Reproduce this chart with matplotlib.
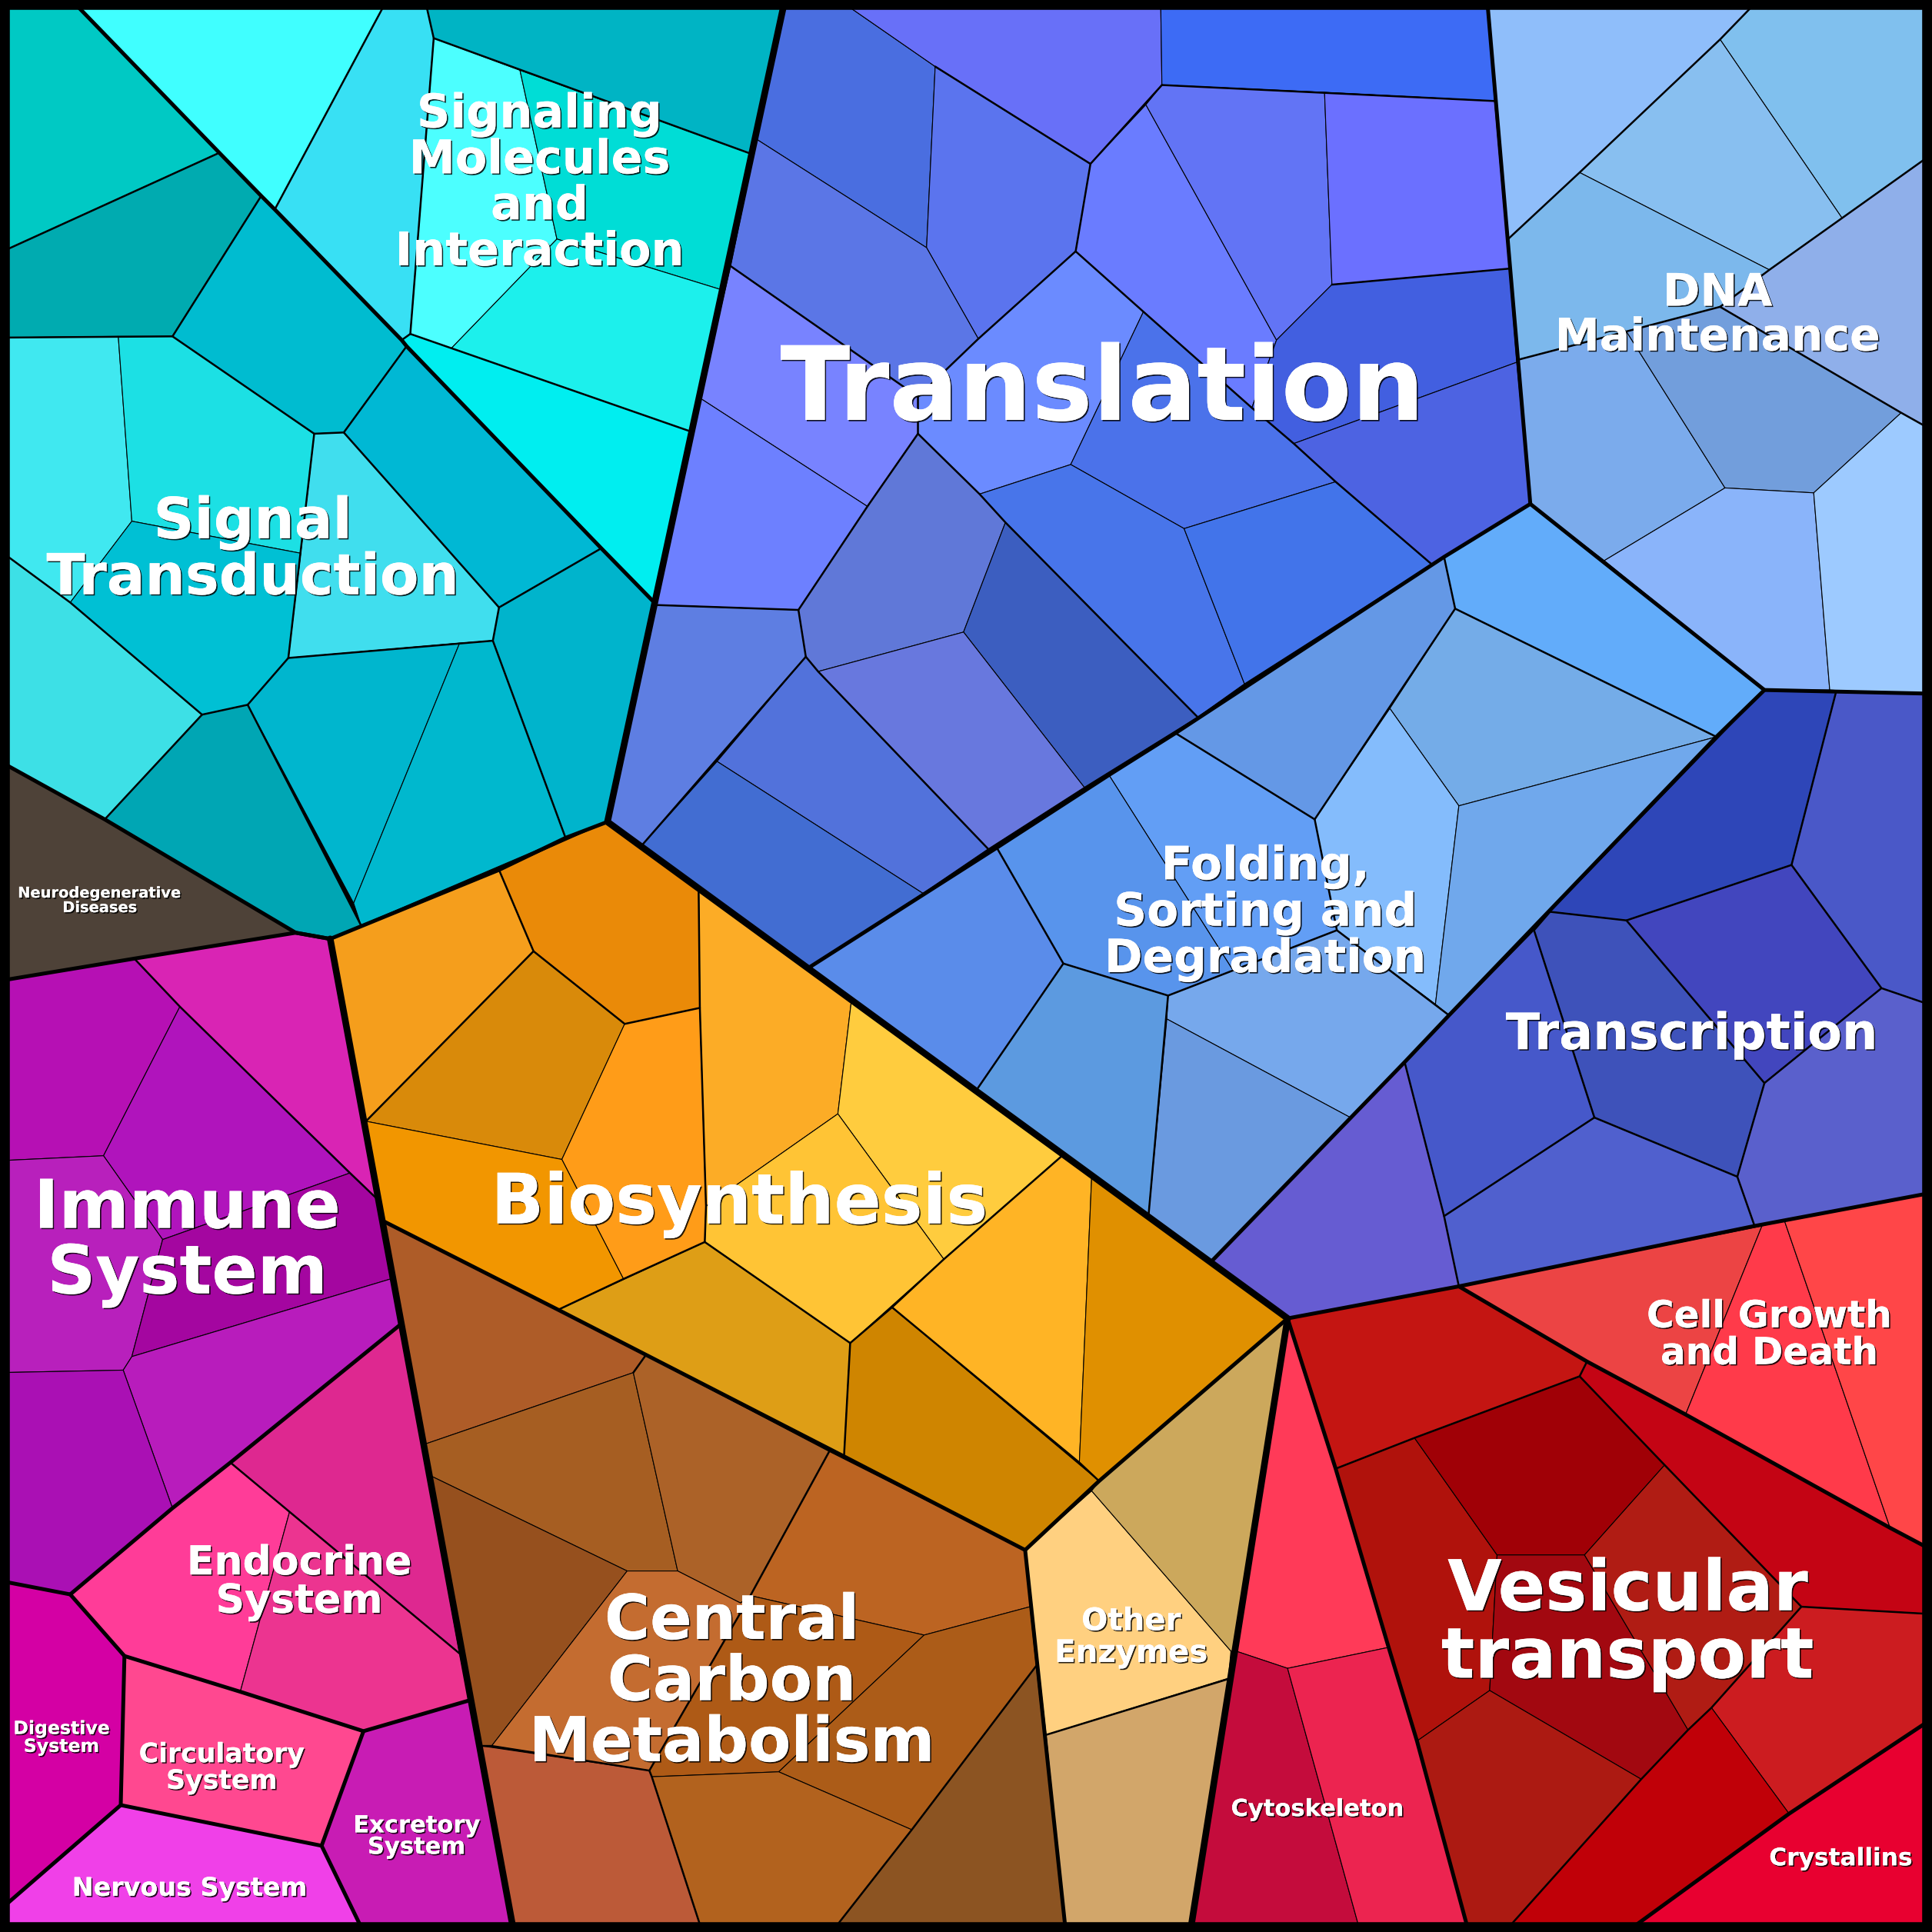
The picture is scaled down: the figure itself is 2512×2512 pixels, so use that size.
import matplotlib
matplotlib.use("Agg")
import matplotlib.pyplot as plt
import matplotlib.patheffects as pe
from matplotlib.patches import Polygon

# ---- data: Voronoi cells (vertices) and their colours ----
SIGNALING_CELLS = [
 [(58,0),(314,0),(223,170)],
 [(314,0),(345,0),(352,31),(333,271),(326,276),(223,170)],
 [(352,31),(422,57),(452,194),(366,283),(333,271)],
 [(422,57),(610,125),(585,235),(452,194)],
 [(345,0),(637,0),(610,125),(352,31)],
 [(452,194),(585,235),(560,350),(366,283)],
 [(326,276),(333,271),(560,350),(532,490)],
]
SIGNALING_COLORS = ['#40FFFF','#38E0F4','#4CFFFF','#00DDD6','#00B4C4','#1CF0EC','#00EEF0']

TRANSDUCTION_CELLS = [
 [(0,0),(58,0),(178,124),(0,205)],
 [(0,205),(178,124),(212,159),(140,273),(0,274)],
 [(212,159),(223,170),(326,276),(330,281),(279,351),(255,352),(140,273)],
 [(330,281),(488,445),(405,493),(279,351)],
 [(488,445),(532,490),(493,667),(459,680),(400,520),(405,493)],
 [(279,351),(405,493),(400,520),(373,522),(234,534),(244,449),(255,352)],
 [(0,274),(96,273),(107,423),(57,489),(0,447)],
 [(96,273),(140,273),(255,352),(244,449),(107,423)],
 [(107,423),(244,449),(234,534),(201,572),(164,580),(57,489)],
 [(0,447),(57,489),(164,580),(85,665),(0,618)],
 [(164,580),(201,572),(293,751),(268,762),(240,757),(85,665)],
 [(201,572),(234,534),(373,522),(287,733)],
 [(373,522),(400,520),(459,680),(293,751),(287,733)],
]
TRANSDUCTION_COLORS = ['#00C9C4','#00ABB0','#00BCD0','#00B8D4','#00B4CC','#40DEEE','#40E8F0',
                       '#1CE0E4','#00C0D4','#3DE0E6','#00A6B4','#00B6CE','#00B8CE']

TRANSLATION_CELLS = [
 [(637,0),(681,0),(759,54),(752,201),(614,113)],
 [(681,0),(942,0),(943,69),(885,133),(759,54)],
 [(942,0),(1207,0),(1213,82),(1075,75),(943,69)],
 [(759,54),(885,133),(873,204),(794,275),(752,201)],
 [(614,113),(752,201),(794,275),(745,322),(593,216)],
 [(593,216),(745,322),(745,352),(704,411),(568,323)],
 [(568,323),(704,411),(648,495),(532,491)],
 [(885,133),(930,85),(1036,276),(1016,331),(928,253),(873,204)],
 [(930,85),(943,69),(1075,75),(1081,231),(1036,276)],
 [(1075,75),(1213,82),(1225,218),(1081,231)],
 [(1081,231),(1225,218),(1231,294),(1050,360),(1016,331),(1036,276)],
 [(1050,360),(1231,294),(1242,409),(1162,458),(1084,391)],
 [(873,204),(928,253),(869,377),(795,401),(745,352),(745,322),(794,275)],
 [(928,253),(1016,331),(1050,360),(1084,391),(961,429),(869,377)],
 [(795,401),(869,377),(961,429),(1010,555),(972,582),(816,424)],
 [(961,429),(1084,391),(1162,458),(1010,555)],
 [(745,352),(795,401),(816,424),(782,513),(664,545),(654,533),(648,495),(704,411)],
 [(816,424),(972,582),(880,639),(782,513)],
 [(664,545),(782,513),(880,639),(802,689)],
 [(532,491),(648,495),(654,533),(521,686),(494,667)],
 [(654,533),(664,545),(802,689),(749,725),(582,618)],
 [(582,618),(749,725),(657,785),(521,686)],
]
TRANSLATION_COLORS = ['#4A6EE0','#6870F8','#3D6BF5','#5B74EE','#5B76E6','#7883FF','#6D80FF',
                      '#6A7CFF','#6274F5','#6B70FF','#425FE0','#4D63E2','#6B8BFF','#4B72EA',
                      '#4875EA','#4274EA','#6078D8','#3C5EC0','#6878DE','#5E7EE2','#5272DB','#426DD2']

DNA_CELLS = [
 [(1207,0),(1427,0),(1396,32),(1282,140),(1224,194)],
 [(1427,0),(1568,0),(1568,125),(1495,177),(1396,32)],
 [(1396,32),(1495,177),(1436,219),(1282,140)],
 [(1282,140),(1436,219),(1396,249),(1320,269),(1232,292),(1224,194)],
 [(1495,177),(1568,125),(1568,349),(1543,335),(1396,249),(1436,219)],
 [(1232,292),(1320,269),(1400,396),(1302,455),(1242,409)],
 [(1320,269),(1396,249),(1543,335),(1472,400),(1400,396)],
 [(1400,396),(1472,400),(1485,560),(1432,560),(1302,455)],
 [(1472,400),(1543,335),(1568,349),(1568,565),(1485,560)],
]
DNA_COLORS = ['#8FBEFA','#80C0EE','#88BFF0','#7CB8EC','#8FAFEA','#7BABEC','#729EDC','#8AB4FA','#9DCAFF']

FOLDING_CELLS = [
 [(1172,452),(1181,494),(1067,665),(954,595)],
 [(1172,452),(1242,409),(1432,560),(1393,598),(1181,494)],
 [(1181,494),(1393,598),(1184,654),(1128,575)],
 [(1128,575),(1184,654),(1165,815),(1085,755),(1067,665)],
 [(1184,654),(1393,598),(1176,824),(1165,815)],
 [(954,595),(1067,665),(1085,755),(1001,788),(900,629)],
 [(900,629),(1001,788),(948,808),(863,782),(809,688)],
 [(809,688),(863,782),(793,884),(657,785)],
 [(863,782),(948,808),(932,988),(793,884)],
 [(948,808),(1085,755),(1176,824),(1096,907),(947,827)],
 [(947,827),(1096,907),(983,1024),(932,988)],
]
FOLDING_COLORS = ['#6498E6','#62ACFA','#74ACE8','#84BCFC','#70A8EC','#629EF5','#5894EC','#5A8CEA',
                  '#5C9AE0','#76A8EC','#6A9AE0']

TRANSCRIPTION_CELLS = [
 [(1432,560),(1490,562),(1454,702),(1320,747),(1258,740)],
 [(1490,562),(1568,563),(1568,816),(1527,802),(1454,702)],
 [(1258,740),(1320,747),(1432,879),(1410,955),(1294,907),(1245,755)],
 [(1320,747),(1454,702),(1527,802),(1432,879)],
 [(1140,862),(1245,755),(1294,907),(1172,987)],
 [(1172,987),(1294,907),(1410,955),(1424,995),(1184,1044)],
 [(1432,879),(1527,802),(1568,816),(1568,968),(1424,995),(1410,955)],
 [(983,1024),(1140,862),(1172,987),(1184,1044),(1045,1070)],
]
TRANSCRIPTION_COLORS = ['#2E46B8','#4A58C8','#3E52BA','#4246BE','#4658CA','#5060CE','#5A60CC','#665CD2']

BIOSYNTHESIS_CELLS = [
 [(268,762),(405,706),(433,772),(297,910)],
 [(405,706),(493,667),(567,721),(568,818),(507,831),(433,772)],
 [(297,910),(433,772),(507,831),(456,941)],
 [(507,831),(568,818),(573,979),(572,1008),(506,1038),(456,941)],
 [(297,910),(456,941),(506,1038),(453,1063),(311,991)],
 [(567,721),(691,812),(680,904),(573,979),(568,818)],
 [(691,812),(862,938),(766,1022),(680,904)],
 [(680,904),(766,1022),(690,1090),(572,1008),(573,979)],
 [(453,1063),(572,1008),(690,1090),(685,1182)],
 [(862,938),(886,955),(876,1187),(724,1061),(766,1022)],
 [(886,955),(1045,1070),(892,1202),(876,1187)],
 [(690,1090),(724,1061),(892,1202),(832,1258),(685,1182)],
]
BIOSYNTHESIS_COLORS = ['#F59E1C','#EA8A08','#D98A0A','#FF9C18','#F29600','#FCAC26','#FFCC3E',
                       '#FFC435','#DE9E16','#FFB425','#E09000','#CF8500']

CARBON_CELLS = [
 [(311,991),(524,1100),(514,1114),(345,1172)],
 [(345,1172),(514,1114),(550,1275),(509,1275),(350,1198)],
 [(524,1100),(673,1178),(609,1295),(601,1301),(550,1275),(514,1114)],
 [(673,1178),(832,1258),(836,1304),(750,1327),(609,1295)],
 [(350,1198),(509,1275),(399,1417),(391,1417)],
 [(509,1275),(550,1275),(601,1301),(609,1295),(527,1437),(399,1417)],
 [(609,1295),(750,1327),(632,1438),(529,1442),(527,1437)],
 [(750,1327),(836,1304),(841,1352),(740,1485),(632,1438)],
 [(841,1352),(865,1568),(675,1568),(740,1485)],
 [(529,1442),(632,1438),(740,1485),(675,1568),(570,1568)],
 [(391,1417),(527,1437),(529,1442),(570,1568),(417,1568)],
]
CARBON_COLORS = ['#AE5C28','#A65E22','#AC6228','#BC6422','#96501E','#C46C30','#AE5A16','#AC5C18',
                 '#8C5422','#B2621E','#BC5A38']

ENZYME_CELLS = [
 [(832,1258),(886,1210),(999,1340),(997,1362),(849,1408)],
 [(886,1210),(892,1202),(1045,1070),(1003,1340),(999,1340)],
 [(849,1408),(999,1362),(966,1568),(865,1568)],
]
ENZYME_COLORS = ['#FFD080','#CCA85C','#D2A66A']

CYTOSKELETON_CELLS = [
 [(1045,1070),(1084,1192),(1127,1337),(1045,1354),(1003,1340)],
 [(1003,1340),(1045,1354),(1104,1568),(966,1568)],
 [(1045,1354),(1127,1337),(1150,1413),(1192,1568),(1104,1568)],
]
CYTOSKELETON_COLORS = ['#FF3A58','#C40C3C','#EC2450']

VESICULAR_CELLS = [
 [(1045,1070),(1184,1044),(1288,1105),(1282,1117),(1148,1167),(1084,1192)],
 [(1084,1192),(1148,1167),(1215,1262),(1209,1372),(1150,1413),(1127,1337)],
 [(1148,1167),(1282,1117),(1351,1189),(1286,1262),(1215,1262)],
 [(1215,1262),(1286,1262),(1370,1404),(1332,1444),(1209,1372)],
 [(1286,1262),(1351,1189),(1462,1304),(1389,1386),(1370,1404)],
 [(1150,1413),(1209,1372),(1332,1444),(1221,1568),(1192,1568)],
 [(1288,1105),(1568,1258),(1568,1310),(1462,1304),(1351,1189),(1282,1117)],
 [(1462,1304),(1568,1310),(1568,1395),(1452,1472),(1389,1386)],
 [(1370,1404),(1389,1386),(1452,1472),(1320,1568),(1221,1568),(1332,1444)],
]
VESICULAR_COLORS = ['#C41512','#B0120C','#A00006','#A20810','#B01C14','#AC1A12','#C40414','#CC1C20','#C00008']

OTHER_CELLS = [
 [(1320,1568),(1452,1472),(1568,1395),(1568,1568)],
 [(1184,1044),(1430,995),(1368,1148),(1288,1105)],
 [(1430,995),(1448,990),(1534,1240),(1368,1148)],
 [(1448,990),(1568,968),(1568,1258),(1534,1240)],
 [(0,796),(109,778),(146,817),(84,938),(0,942)],
 [(146,817),(284,952),(132,1006),(84,938)],
 [(109,778),(240,757),(268,762),(306,973),(146,817)],
 [(0,942),(84,938),(132,1006),(107,1101),(100,1112),(0,1114)],
 [(132,1006),(284,952),(306,973),(317,1038),(107,1101)],
 [(107,1101),(317,1038),(325,1075),(187,1187),(140,1224),(100,1112)],
 [(0,1114),(100,1112),(140,1224),(57,1294),(0,1283)],
 [(325,1075),(373,1342),(235,1227),(187,1187)],
 [(187,1187),(235,1227),(195,1373),(101,1344),(57,1294),(140,1224)],
 [(235,1227),(373,1342),(381,1380),(295,1405),(195,1373)],
 [(101,1344),(195,1373),(295,1405),(261,1498),(98,1465)],
 [(0,1283),(57,1294),(101,1344),(98,1465),(0,1550)],
 [(98,1465),(261,1498),(295,1568),(0,1568),(0,1550)],
 [(295,1405),(381,1380),(417,1568),(295,1568),(261,1498)],
 [(0,618),(85,665),(240,757),(109,778),(0,796)],
]
OTHER_COLORS = ['#E80030','#EC4444','#FF3A4A','#FF4648','#B610B4','#B014BC','#D924B4','#B820BC','#A406A0',
                '#B81CBC','#AA10B4','#DE2890','#FF3C98','#EC3490','#FF4890','#D400A4','#F040E8','#C81CB4','#4E4238']

# boundaries of the hierarchy levels
SUBGROUP_EDGES = [
 [(178,124),(0,205)], [(212,159),(140,273),(0,274)], [(140,273),(255,352),(279,351),(330,281)],
 [(279,351),(405,493),(488,445)], [(405,493),(400,520),(459,680)], [(400,520),(234,534),(255,352)],
 [(234,534),(201,572),(164,580),(57,489),(0,447)], [(164,580),(85,665)], [(201,572),(293,751)],
 [(314,0),(223,170)], [(345,0),(352,31),(333,271),(326,276)], [(352,31),(610,125)], [(333,271),(560,350)],
 [(759,54),(885,133),(873,204),(794,275),(745,322),(593,216)], [(745,322),(745,352),(795,401),(816,424),(972,582)],
 [(943,69),(1213,82)], [(943,69),(885,133)], [(873,204),(928,253),(1016,331),(1050,360),(1084,391),(1162,458)],
 [(1081,231),(1225,218)], [(745,352),(704,411),(648,495),(532,491)], [(648,495),(654,533),(521,686)],
 [(654,533),(664,545),(802,689)],
 [(1396,249),(1320,269),(1232,292)], [(1427,0),(1396,32),(1282,140),(1224,194)],
 [(1568,125),(1495,177),(1436,219),(1396,249),(1543,335),(1568,349)],
 [(1172,452),(1181,494),(1067,665),(954,595)], [(1181,494),(1393,598)], [(1067,665),(1085,755),(1176,824)],
 [(809,688),(863,782),(948,808),(1085,755)], [(863,782),(793,884)], [(948,808),(932,988)],
 [(1490,562),(1454,702),(1320,747),(1258,740)], [(1454,702),(1527,802),(1568,816)],
 [(1527,802),(1432,879),(1320,747)], [(1432,879),(1410,955),(1294,907),(1245,755),(1258,740)],
 [(1294,907),(1172,987)], [(1140,862),(1172,987),(1184,1044)], [(1410,955),(1424,995)],
 [(405,706),(433,772),(297,910)], [(433,772),(507,831),(568,818)], [(567,721),(568,818),(573,979),(572,1008),(506,1038),(453,1063)],
 [(572,1008),(690,1090),(685,1182)], [(690,1090),(724,1061),(766,1022),(862,938)], [(724,1061),(876,1187),(892,1202)],
 [(524,1100),(514,1114)], [(673,1178),(609,1295),(527,1437)], [(391,1417),(399,1417),(527,1437),(529,1442),(570,1568)],
 [(841,1352),(740,1485),(675,1568)],
 [(1084,1192),(1148,1167),(1282,1117),(1288,1105)], [(1282,1117),(1351,1189),(1462,1304),(1568,1310)],
 [(1462,1304),(1389,1386),(1370,1404),(1332,1444),(1221,1568)],
 [(109,778),(146,817),(284,952),(306,973)], [(849,1408),(999,1362)], [(187,1187),(235,1227),(373,1342)],
]
PATHWAY_EDGES = [
 [(58,0),(178,124),(212,159),(223,170),(326,276),(330,281),(488,445),(532,490)],
 [(0,618),(85,665),(240,757),(268,762)], [(57,1294),(140,1224),(187,1187),(325,1075)], [(57,1294),(0,1283)],
 [(57,1294),(101,1344),(195,1373),(295,1405),(381,1380)], [(101,1344),(98,1465),(0,1550)],
 [(98,1465),(261,1498),(295,1568)], [(261,1498),(295,1405)], [(311,991),(453,1063),(685,1182),(832,1258),(865,1568)],
 [(832,1258),(892,1202),(1045,1070)], [(657,785),(809,688),(900,629),(954,595),(1172,452),(1242,409),(1207,0)],
 [(1242,409),(1432,560),(1568,563)],
 [(1432,560),(1393,598),(1176,824),(1140,862),(983,1024),(1045,1070)], [(1045,1070),(1184,1044),(1424,995),(1568,968)],
 [(1184,1044),(1288,1105),(1368,1148),(1534,1240),(1568,1258)],
 [(1320,1568),(1452,1472),(1568,1395)], [(1045,1070),(1084,1192),(1127,1337),(1150,1413),(1192,1568)],
 [(0,796),(109,778),(240,757),(268,762)], [(268,762),(405,706),(459,680),(493,667)],
]
CATEGORY_EDGES = [
 [(637,0),(493,667),(1045,1070),(966,1568)], [(268,762),(417,1568)],
]

LABELS = ['Signaling\nMolecules\nand\nInteraction','Signal\nTransduction','Translation','DNA\nMaintenance',
          'Folding,\nSorting and\nDegradation','Transcription','Biosynthesis','Immune\nSystem','Endocrine\nSystem',
          'Central\nCarbon\nMetabolism','Other\nEnzymes','Cell Growth\nand Death','Vesicular\ntransport',
          'Cytoskeleton','Crystallins','Digestive\nSystem','Circulatory\nSystem','Excretory\nSystem',
          'Nervous System','Neurodegenerative\nDiseases']
LABEL_X = [438,205,895,1394,1027,1373,600,152,243,594,918,1436,1321,1069,1494,50,180,338,154,81]
LABEL_Y = [146,443,311,253,738,837,973,1004,1282,1362,1327,1081,1314,1467,1507,1409,1433,1489,1531,730]
LABEL_PT = [43.5,53,96,42,43,47,65,63,37.5,58,29,35,65.5,22,22.5,17,25,22,24,14]
LABEL_STEP = [38,45,0,37,38,0,0,55,32,51,26,30,56,0,0,14,22,18,0,12]

fig = plt.figure(figsize=(25.12,25.12), dpi=100)
ax = fig.add_axes([0,0,1,1], facecolor='black')
ax.set_xlim(0,1568); ax.set_ylim(1568,0)
ax.set_xticks([]); ax.set_yticks([])

groups = [(SIGNALING_CELLS,SIGNALING_COLORS),(TRANSDUCTION_CELLS,TRANSDUCTION_COLORS),
          (TRANSLATION_CELLS,TRANSLATION_COLORS),(DNA_CELLS,DNA_COLORS),(FOLDING_CELLS,FOLDING_COLORS),
          (TRANSCRIPTION_CELLS,TRANSCRIPTION_COLORS),(BIOSYNTHESIS_CELLS,BIOSYNTHESIS_COLORS),
          (CARBON_CELLS,CARBON_COLORS),(ENZYME_CELLS,ENZYME_COLORS),(CYTOSKELETON_CELLS,CYTOSKELETON_COLORS),
          (VESICULAR_CELLS,VESICULAR_COLORS),(OTHER_CELLS,OTHER_COLORS)]
for cells,cols in groups:
    for poly,c in zip(cells,cols):
        ax.add_patch(Polygon(poly,closed=True,fc=c,ec='black',lw=0.8,joinstyle='round',zorder=1))

def polylines(lst,lw,z):
    for pl in lst:
        xs,ys = zip(*pl)
        ax.plot(xs,ys,color='black',lw=lw,solid_joinstyle='round',solid_capstyle='round',zorder=z)
polylines(SUBGROUP_EDGES,1.8,2)
polylines(PATHWAY_EDGES,3.6,3)
polylines(CATEGORY_EDGES,6.2,4)

shadow = [pe.withSimplePatchShadow(offset=(1.2,-1.2),shadow_rgbFace='black',alpha=0.85),pe.Normal()]
for t,x,y,s,st in zip(LABELS,LABEL_X,LABEL_Y,LABEL_PT,LABEL_STEP):
    px = s*100/72
    ls = (st*2512/1568)/(px*0.99) if st else 1.0
    ax.text(x,y+0.07*s,t,ha='center',va='center',ma='center',fontsize=s,fontweight='bold',family='DejaVu Sans',
            color='white',linespacing=ls,path_effects=shadow,zorder=5)

for sp in ax.spines.values():
    sp.set_linewidth(18.4); sp.set_color('black'); sp.set_zorder(6)
fig.savefig('out.png',dpi=100,facecolor='black')
